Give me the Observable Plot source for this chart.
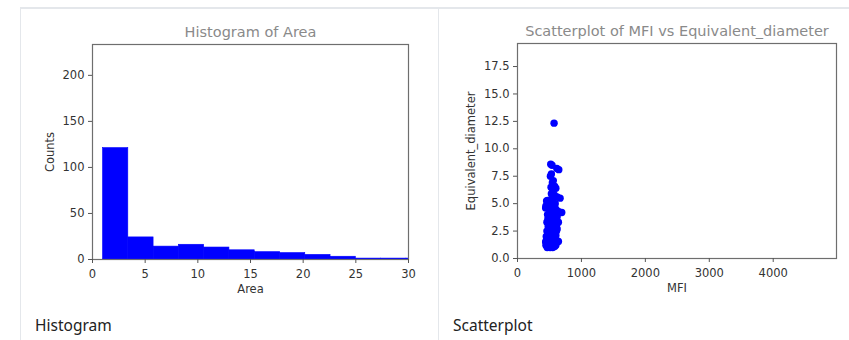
<!DOCTYPE html>
<html><head><meta charset="utf-8">
<script src="https://cdn.jsdelivr.net/npm/d3@7"></script>
<script src="https://cdn.jsdelivr.net/npm/@observablehq/plot@0.6"></script>
<style>
body{margin:0;background:#fff;}
#page{position:relative;width:849px;height:340px;overflow:hidden;font-family:"DejaVu Sans";}
.line{position:absolute;background:#e4e7eb;z-index:2;}
#h1,#h2{position:absolute;top:0;}
.cap{position:absolute;font-family:"Noto Sans";font-size:15.5px;color:#222;top:314px;}
</style></head>
<body><div id="page">
<div id="h1" style="left:0"></div><div id="h2" style="left:430px"></div>
<div class="line" style="left:20px;top:7px;width:829px;height:1.5px"></div>
<div class="line" style="left:19.5px;top:7px;width:1.5px;height:333px"></div>
<div class="line" style="left:437.5px;top:7px;width:1.5px;height:333px"></div>
<div class="cap" style="left:35px">Histogram</div>
<div class="cap" style="left:453px">Scatterplot</div>
</div>
<script>
// Histogram of Area
const binStart = [1, 3.4, 5.8, 8.2, 10.6, 13, 15.4, 17.8, 20.2, 22.6, 25, 27.4, 29.8];
const binEnd   = [3.4, 5.8, 8.2, 10.6, 13, 15.4, 17.8, 20.2, 22.6, 25, 27.4, 29.8, 32.2];
const counts   = [121, 24, 14, 16, 13, 10, 8, 7, 5, 3, 1, 1, 1];
const histXTicks = [0, 5, 10, 15, 20, 25, 30];
const histYTicks = [0, 50, 100, 150, 200];

// Scatterplot of MFI vs Equivalent_diameter
const mfi = [572,520,540,646,615,530,515,560,545,580,525,600,555,530,575,666,620,540,455,500,560,445,480,520,600,540,692,640,580,500,470,550,620,510,475,590,560,640,500,460,530,610,480,550,620,505,460,575,530,490,600,450,545,470,515,580,625,640,450,495,540,470,520,560,445,490,530,580,465,510,550,600,440,455,440,470,600,570,505,590,525,485,610,560];
const diameter = [12.34,8.6,8.5,8.1,8.2,7.7,7.5,7.1,6.9,6.6,6.5,6.4,6.2,5.9,5.8,5.5,5.6,5.5,5.25,5.2,5.1,4.8,4.7,4.6,4.5,4.4,4.2,4.3,4.2,4.1,4.0,3.9,3.8,3.7,3.6,3.5,3.4,3.3,3.2,3.3,3.1,3.0,2.9,2.8,2.7,2.6,2.5,2.4,2.3,2.2,2.1,2.0,2.0,1.9,1.8,1.7,1.6,1.55,1.6,1.5,1.45,1.3,1.3,1.25,1.2,1.1,1.05,1.1,1.0,1.0,1.0,1.2,1.5,1.8,4.6,5.3,3.9,3.0,4.9,5.0,3.8,2.4,2.5,1.8];
const scatXTicks = [0, 1000, 2000, 3000, 4000];
const scatYTicks = [0, 2.5, 5, 7.5, 10, 12.5, 15, 17.5];

const bins = binStart.map((s, i) => ({x1: s, x2: binEnd[i], y: counts[i]}));
const pts = mfi.map((m, i) => ({m, d: diameter[i]}));

const baseStyle = {fontFamily: "DejaVu Sans", fontSize: "11.5px", color: "#333", background: "transparent"};

const hist = Plot.plot({
  width: 430, height: 300,
  marginLeft: 92, marginRight: 22, marginTop: 44, marginBottom: 41,
  style: baseStyle,
  x: {domain: [0, 30]},
  y: {domain: [0, 233.5]},
  marks: [
    Plot.rectY(bins, {x1: "x1", x2: "x2", y: "y", fill: "#0000ff", stroke: "#0000ff", strokeWidth: 0.6, clip: "frame", inset: 0}),
    Plot.frame({stroke: "#6e6e6e", strokeWidth: 1.2}),
    Plot.axisX({ticks: histXTicks, tickSize: 4, tickPadding: 6, stroke: "#555", label: "Area", labelAnchor: "center", labelArrow: "none", labelOffset: 33}),
    Plot.axisY({ticks: histYTicks, tickSize: 4, tickPadding: 4, stroke: "#555", label: "Counts", labelAnchor: "center", labelArrow: "none", labelOffset: 47}),
    Plot.text(["Histogram of Area"], {frameAnchor: "top", dy: -18, fill: "#8a8a8a", fontSize: 14.5})
  ]
});
document.getElementById("h1").append(hist);

const scat = Plot.plot({
  width: 419, height: 300,
  marginLeft: 87, marginRight: 13, marginTop: 43, marginBottom: 42,
  style: baseStyle,
  x: {domain: [0, 4990]},
  y: {domain: [0, 19.6]},
  marks: [
    Plot.dot(pts, {x: "m", y: "d", r: 3.7, fill: "#0000ff", stroke: "none", clip: "frame"}),
    Plot.frame({stroke: "#6e6e6e", strokeWidth: 1.2}),
    Plot.axisX({ticks: scatXTicks, tickFormat: d3.format("d"), tickSize: 4, tickPadding: 6, stroke: "#555", label: "MFI", labelAnchor: "center", labelArrow: "none", labelOffset: 33}),
    Plot.axisY({ticks: scatYTicks, tickFormat: d3.format(".1f"), tickSize: 4, tickPadding: 4, stroke: "#555", label: "Equivalent_diameter", labelAnchor: "center", labelArrow: "none", labelOffset: 51}),
    Plot.text(["Scatterplot of MFI vs Equivalent_diameter"], {frameAnchor: "top", dy: -18, fill: "#8a8a8a", fontSize: 14.5})
  ]
});
document.getElementById("h2").append(scat);
</script>
</body></html>
